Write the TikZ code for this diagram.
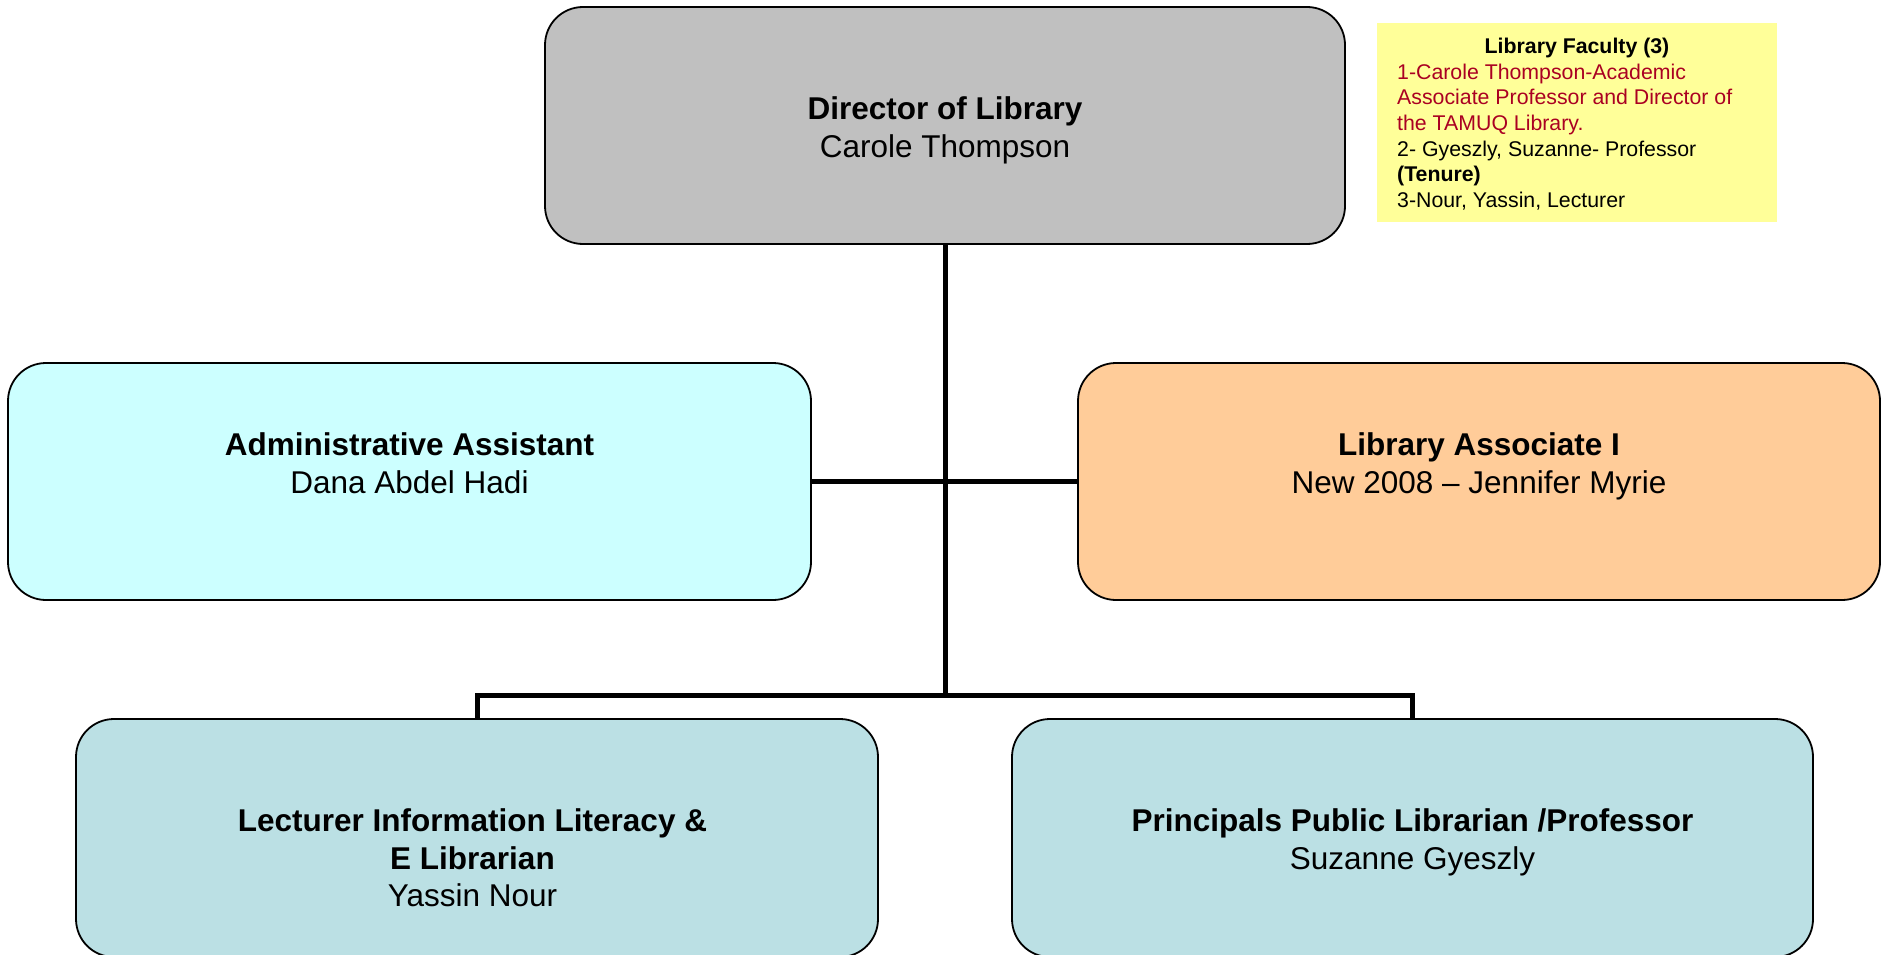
\documentclass[tikz,border=0pt]{standalone}
\usepackage{fontspec}
\setmainfont{Liberation Sans}
\usetikzlibrary{backgrounds}
\definecolor{dirgray}{RGB}{192,192,192}
\definecolor{admcyan}{RGB}{204,255,255}
\definecolor{asspeach}{RGB}{255,204,153}
\definecolor{libblue}{RGB}{187,224,228}
\definecolor{noteyellow}{RGB}{255,255,153}
\definecolor{notered}{RGB}{170,0,34}
\begin{document}
\begin{tikzpicture}[x=1pt,y=-1pt,
  orgbox/.style={draw=black, line width=1.8pt, rounded corners=38pt, minimum width=#1, inner sep=0pt},
  boxhead/.style={anchor=base, inner sep=0pt, font=\fontsize{31.5}{37.5}\selectfont\bfseries},
  boxname/.style={anchor=base, inner sep=0pt, font=\fontsize{31.5}{37.5}\selectfont},
  notehead/.style={anchor=base, inner sep=0pt, font=\fontsize{21.3}{25.3}\selectfont\bfseries},
  noteline/.style={anchor=base west, inner sep=0pt, font=\fontsize{21.3}{25.3}\selectfont},
  conn/.style={draw=black, line width=5pt, line join=miter}]
\useasboundingbox (0,0) rectangle (1885,955);
% boxes
\node[orgbox=800pt, minimum height=237pt, fill=dirgray] (dir) at (945,125.5) {};
\node[orgbox=803pt, minimum height=237pt, fill=admcyan] (adm) at (409.5,481.5) {};
\node[orgbox=802pt, minimum height=237pt, fill=asspeach] (ass) at (1479,481.5) {};
\node[orgbox=802pt, minimum height=238pt, fill=libblue] (lec) at (477,838) {};
\node[orgbox=801pt, minimum height=238pt, fill=libblue] (prin) at (1412.5,838) {};
% note
\node[fill=noteyellow, minimum width=400pt, minimum height=199pt, inner sep=0pt] (note) at (1577,122.5) {};
% connectors
\coordinate (bus) at (945,695);
\begin{pgfonlayer}{background}
\draw[conn] (dir.south) -- (bus);
\draw[conn] (adm.east) -- (ass.west);
\draw[conn] (lec.north) -- (lec.north |- bus) -- (prin.north |- bus) -- (prin.north);
\end{pgfonlayer}
% box texts
\node[boxhead] (dirA) at (945,120) {Director of Library};
\node[boxname] (dirB) at (945,157.5) {Carole Thompson};
\node[boxhead] (admA) at (409.5,455) {Administrative Assistant};
\node[boxname] (admB) at (409.5,493) {Dana Abdel Hadi};
\node[boxhead] (assA) at (1479,455) {Library Associate I};
\node[boxname] (assB) at (1479,493) {New 2008 – Jennifer Myrie};
\node[boxhead] (lecA) at (472.5,831.7) {Lecturer Information Literacy \&};
\node[boxhead] (lecB) at (472.5,869.2) {E Librarian};
\node[boxname] (lecC) at (472.5,906.7) {Yassin Nour};
\node[boxhead] (prinA) at (1412.5,831.7) {Principals Public Librarian /Professor};
\node[boxname] (prinB) at (1412.5,869.2) {Suzanne Gyeszly};
% note texts
\node[notehead] (nT) at (1577,53.5) {Library Faculty (3)};
\node[noteline, text=notered] (n1) at (1397,79.2) {1-Carole Thompson-Academic};
\node[noteline, text=notered] (n2) at (1397,104.9) {Associate Professor and Director of};
\node[noteline, text=notered] (n3) at (1397,130.6) {the TAMUQ Library.};
\node[noteline] (n4) at (1397,156.3) {2- Gyeszly, Suzanne- Professor};
\node[noteline, font=\fontsize{21.3}{25.3}\selectfont\bfseries] (n5) at (1397,182) {(Tenure)};
\node[noteline] (n6) at (1397,207.7) {3-Nour, Yassin, Lecturer};
\end{tikzpicture}
\end{document}
